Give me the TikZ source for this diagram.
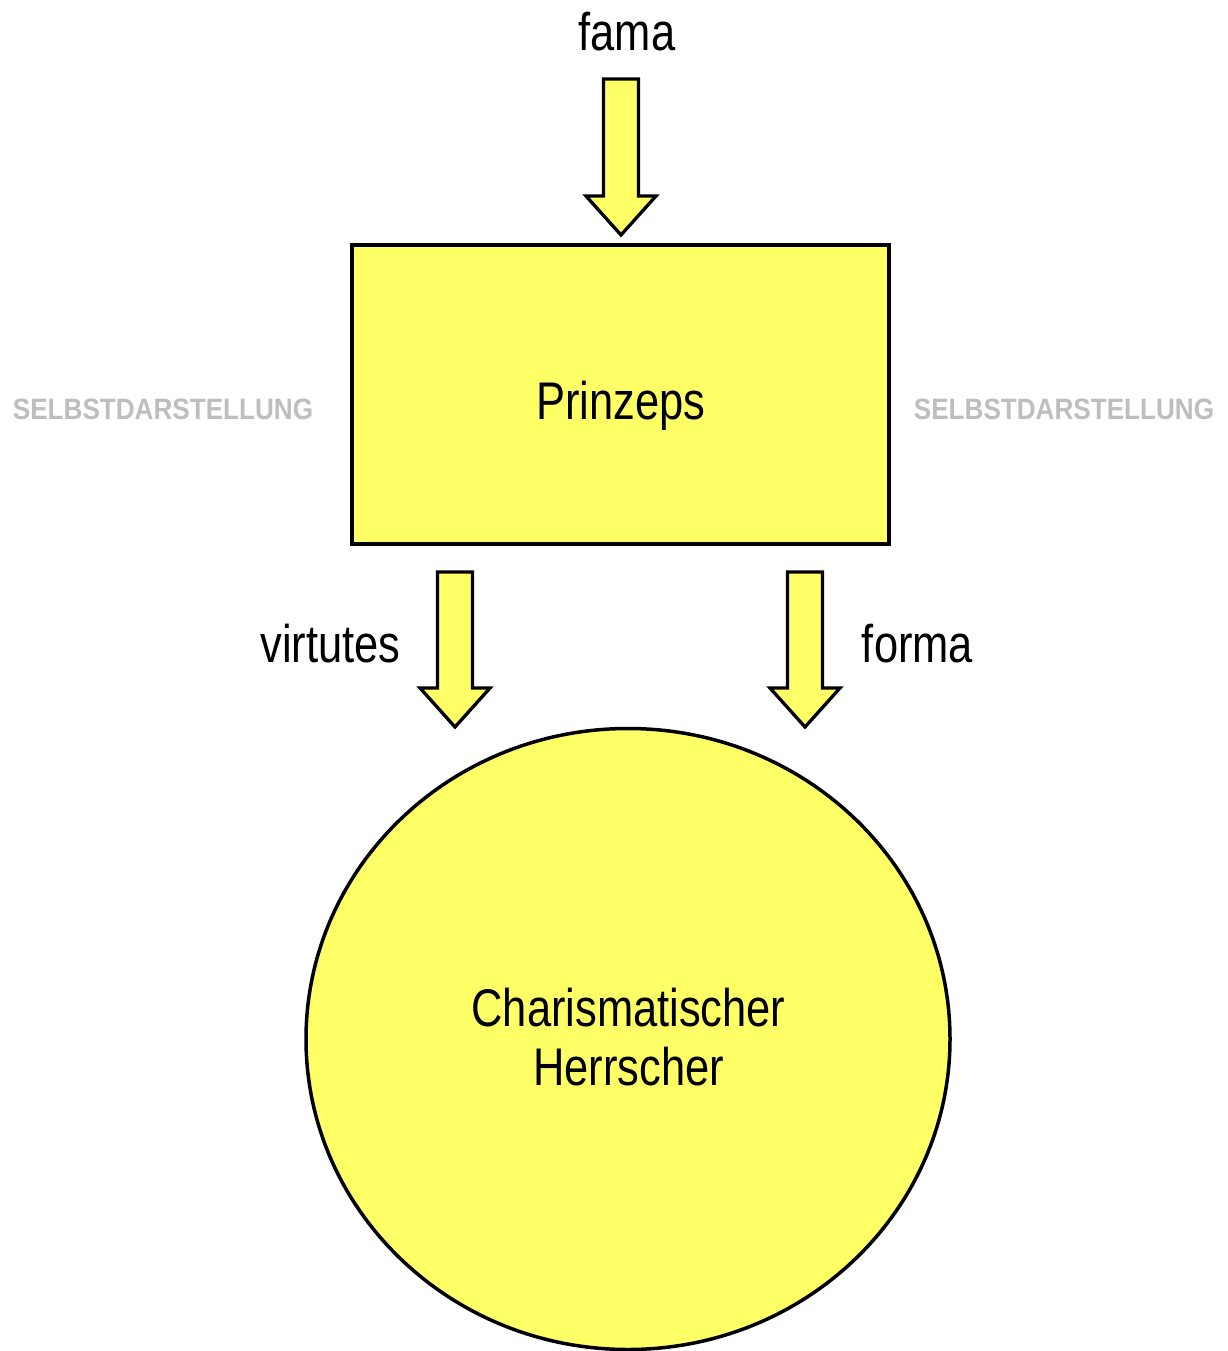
\documentclass[tikz,border=0pt]{standalone}
\usepackage{fontspec}
\setmainfont{Liberation Sans}[FakeStretch=0.82]
\newfontfamily\selfont{Liberation Sans}[FakeStretch=0.885]
\usetikzlibrary{shapes.geometric,calc}
\definecolor{fillyellow}{HTML}{FFFF66}
\definecolor{selgray}{HTML}{BEBEBE}
\tikzset{
  yellowshape/.style={draw=black,fill=fillyellow,line width=3.5pt,inner sep=0pt},
  blockarrow/.style={draw=black,fill=fillyellow,line width=3.3pt,line join=miter},
  bigtext/.style={font=\fontsize{53}{59}\selectfont,inner sep=0pt},
  seltext/.style={font=\selfont\bfseries\fontsize{29.5}{34}\selectfont,text=selgray,inner sep=0pt},
}
\newcommand\blockarr[2]{%
  \draw[blockarrow] let \p1=(#1), \p2=(#2) in
    (\x1-17.5,\y1) -- (\x1+17.5,\y1) -- (\x1+17.5,\y2+39) -- (\x1+35,\y2+39)
    -- (\x2,\y2) -- (\x1-35,\y2+39) -- (\x1-17.5,\y2+39) -- cycle;}
\begin{document}
\begin{tikzpicture}[x=1pt,y=-1pt]
\useasboundingbox (0,0) rectangle (1227,1351);
% shapes
\node[yellowshape,rectangle,minimum width=537pt,minimum height=299pt] (prinz) at (620.5,394.5) {};
\node[bigtext,anchor=base] (prinzlabel) at (621,419) {Prinzeps};
\node[yellowshape,ellipse,minimum width=644pt,minimum height=621pt] (herr) at (628,1039) {};
\node[bigtext,align=center] (herrlabel) at (628.5,1037) {Charismatischer\\Herrscher};
% labels
\node[bigtext,anchor=base] (fama) at (627,51) {fama};
\node[bigtext,anchor=base] (virt) at (330.5,662) {virtutes};
\node[bigtext,anchor=base] (forma) at (917.5,662) {forma};
\node[seltext,anchor=base] (selL) at (163,419) {SELBSTDARSTELLUNG};
\node[seltext,anchor=base] (selR) at (1064,419) {SELBSTDARSTELLUNG};
% arrow end points
\coordinate (famaS) at (621,79);
\coordinate (famaT) at (621,235);
\coordinate (virtS) at (455,572);
\coordinate (virtT) at (455,727);
\coordinate (formS) at (805,572);
\coordinate (formT) at (805,727);
\blockarr{famaS}{famaT}
\blockarr{virtS}{virtT}
\blockarr{formS}{formT}
\end{tikzpicture}
\end{document}
